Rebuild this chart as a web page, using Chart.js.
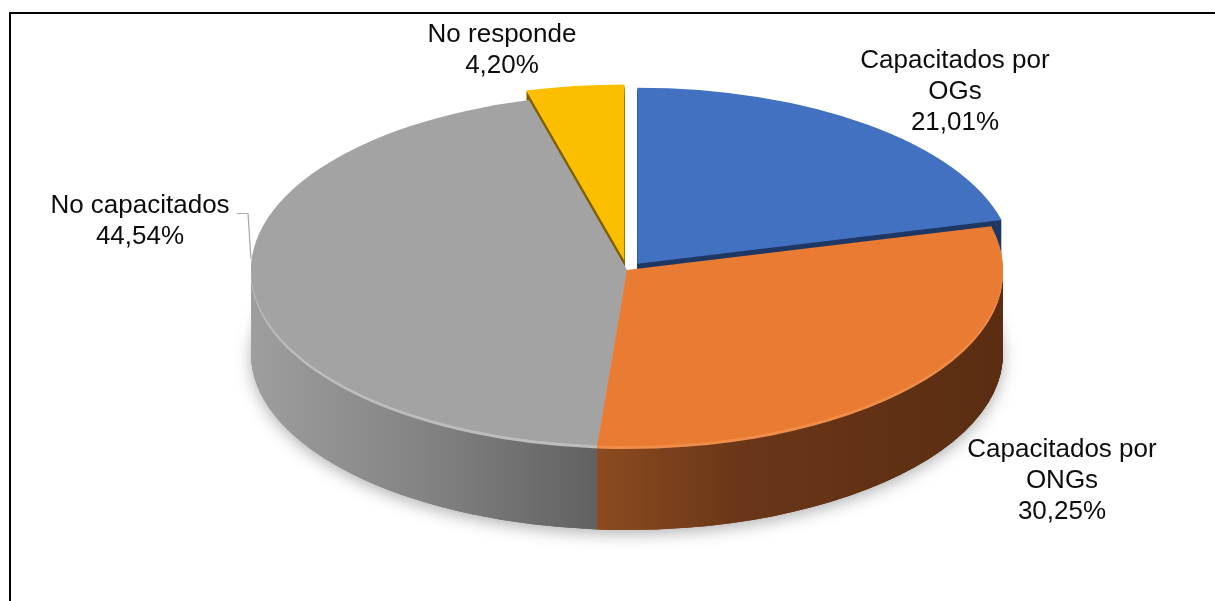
<!DOCTYPE html>
<html>
<head>
<meta charset="utf-8">
<script src="https://cdn.jsdelivr.net/npm/chart.js@4.4.1/dist/chart.umd.min.js"></script>
<style>
  html, body { margin: 0; padding: 0; background: #ffffff; }
  #wrap { position: relative; width: 1215px; height: 601px; overflow: hidden; }
  #frame { position: absolute; left: 9px; top: 12px; right: -4px; bottom: -4px;
           border-top: 2px solid #000; border-left: 2px solid #000; }
  canvas { position: absolute; left: 0; top: 0; }
</style>
</head>
<body>
<div id="wrap">
  <div id="frame"></div>
  <canvas id="chart" width="1215" height="601"></canvas>
</div>
<script>
// Survey shares (percent), clockwise from 12 o'clock
const categories = ['Capacitados por OGs', 'Capacitados por ONGs', 'No capacitados', 'No responde'];
const shares = [21.01, 30.25, 44.54, 4.20];

// Face colours, cut-face shades and rim highlights per slice
const topColors = ['#4371C2', '#EA7B32', '#A3A3A3', '#FBBF00'];
const cutColors = ['#1F3864', '#5E3013', '#6A6A6A', '#7F6000'];
const rimHighlight = ['#1F3864', '#F08D4A', '#BDBDBD', '#7F6000'];

// Exploded slices (fraction of the radius)
const explode = [0.045, 0, 0, 0.055];

// Projected pie geometry on the page
const PIE = { cx: 627, cy: 270, rx: 376, ry: 176, depth: 84 };

// Label anchors: centre x and first baseline y
const labelPos = [[955, 68], [1062, 457], [140, 213], [502, 42]];
const leader = [[237, 213], [248, 213], [251, 259]];

const FONT = '26px "Liberation Sans", Arial, sans-serif';
const LINE_H = 31;

function fmtPct(v) { return v.toFixed(2).replace('.', ',') + '%'; }

function wrapText(ctx, text, maxW) {
  const words = text.split(' ');
  const lines = [];
  let cur = '';
  for (const w of words) {
    const t = cur ? cur + ' ' + w : w;
    if (cur && ctx.measureText(t).width > maxW) { lines.push(cur); cur = w; }
    else cur = t;
  }
  if (cur) lines.push(cur);
  return lines;
}

const pie3d = {
  id: 'pie3d',
  beforeDatasetsDraw(chart) {
    const ctx = chart.ctx;
    const dpr = chart.currentDevicePixelRatio || 1;
    const arcs = chart.getDatasetMeta(0).data;
    const ccx = arcs[0].x, ccy = arcs[0].y, R = arcs[0].outerRadius;
    const sx = PIE.rx / R, sy = PIE.ry / R;
    const ux = xs => ccx + (xs - PIE.cx) / sx;

    const setT = (dy, arc, i) => {
      const mid = (arc.startAngle + arc.endAngle) / 2;
      const e = explode[i] * R;
      ctx.setTransform(dpr * sx, 0, 0, dpr * sy,
        dpr * (PIE.cx - sx * ccx), dpr * (PIE.cy + dy - sy * ccy));
      ctx.translate(Math.cos(mid) * e, Math.sin(mid) * e);
    };
    const paint = (arc, fill) => {
      const fake = Object.create(arc);
      fake.options = Object.assign({}, arc.options, { backgroundColor: fill, borderWidth: 0, offset: 0, spacing: 0 });
      arc.draw.call(fake, ctx);
    };

    // Side shading runs left-to-right across the visible rim
    const grayGrad = ctx.createLinearGradient(ux(251), 0, ux(597), 0);
    grayGrad.addColorStop(0, '#9E9E9E');
    grayGrad.addColorStop(0.5, '#838383');
    grayGrad.addColorStop(1, '#616161');
    const orangeGrad = ctx.createLinearGradient(ux(597), 0, ux(1003), 0);
    orangeGrad.addColorStop(0, '#8C4B1F');
    orangeGrad.addColorStop(0.35, '#6A3617');
    orangeGrad.addColorStop(1, '#5A2D12');
    const sideFill = [cutColors[0], orangeGrad, grayGrad, cutColors[3]];

    const order = [3, 0, 2, 1];
    ctx.save();

    // soft drop shadow under the base
    for (const i of [2, 1]) {
      setT(PIE.depth, arcs[i], i);
      ctx.shadowColor = 'rgba(0,0,0,0.30)';
      ctx.shadowBlur = 16;
      ctx.shadowOffsetY = 4 * dpr;
      paint(arcs[i], sideFill[i]);
    }
    ctx.shadowColor = 'rgba(0,0,0,0)';
    ctx.shadowBlur = 0;
    ctx.shadowOffsetY = 0;

    // extruded sides, back slices first
    for (const i of order) {
      for (let d = PIE.depth; d >= 1; d--) {
        setT(d, arcs[i], i);
        paint(arcs[i], d <= 3 ? rimHighlight[i] : sideFill[i]);
      }
    }
    // top faces
    for (const i of order) {
      setT(0, arcs[i], i);
      paint(arcs[i], topColors[i]);
    }
    ctx.restore();
    return false;
  },
  afterDraw(chart) {
    const ctx = chart.ctx;
    ctx.save();
    ctx.font = FONT;
    ctx.fillStyle = '#0D0D0D';
    ctx.textAlign = 'center';
    ctx.textBaseline = 'alphabetic';
    categories.forEach((name, i) => {
      const lines = wrapText(ctx, name, 215);
      lines.push(fmtPct(shares[i]));
      const [x, y] = labelPos[i];
      lines.forEach((ln, k) => ctx.fillText(ln, x, y + k * LINE_H));
    });
    // leader line for the gray slice label
    ctx.strokeStyle = '#A6A6A6';
    ctx.lineWidth = 1.2;
    ctx.beginPath();
    ctx.moveTo(leader[0][0], leader[0][1] + 0.5);
    ctx.lineTo(leader[1][0], leader[1][1] + 0.5);
    ctx.lineTo(leader[2][0], leader[2][1]);
    ctx.stroke();
    ctx.restore();
  }
};

new Chart(document.getElementById('chart'), {
  type: 'pie',
  data: {
    labels: categories,
    datasets: [{
      data: shares,
      backgroundColor: topColors,
      borderWidth: 0,
      hoverOffset: 0
    }]
  },
  options: {
    responsive: false,
    animation: false,
    events: [],
    radius: 200,
    layout: { padding: 0 },
    plugins: { legend: { display: false }, tooltip: { enabled: false } }
  },
  plugins: [pie3d]
});
</script>
</body>
</html>
